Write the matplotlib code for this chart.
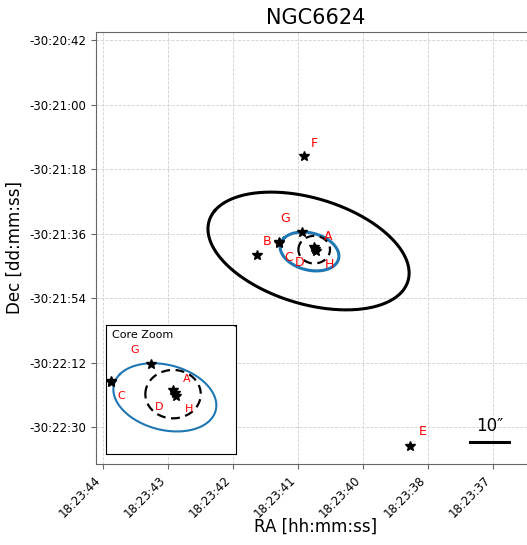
import numpy as np
import matplotlib
matplotlib.use("Agg")
import matplotlib.pyplot as plt

# x: RA seconds past 18:23:00, y: Dec offset in arcsec from -30:21:00
DEC0_DEG = -30.35
ARCSEC_PER_RA_SEC = 15 * np.cos(np.radians(DEC0_DEG))

star_names = ["A", "H", "D", "G", "B", "C", "F", "E", ""]
star_ra = [40.749, 40.728, 40.738, 40.943, 41.297, 41.292, 40.903, 39.277, 41.631]
star_dec = [-39.72, -40.66, -40.20, -35.53, -38.24, -38.40, -14.15, -95.09, -41.78]
# label offsets (points)
label_dx = [10, 10, -11, -12, -8.5, 7, 7, 9, 0]
label_dy = [7.6, -9.6, -10, 9.6, 0, -10.6, 9, 10, 0]

# error regions: centre (RA s, Dec "), semi-axes (arcsec), PA (deg E of N)
big_ell = dict(ra=40.838, dec=-40.75, a=21.8, b=14.0, pa=59)
blue_ell = dict(ra=40.823, dec=-40.89, a=6.3, b=4.9, pa=54)
core_ra, core_dec = 40.751, -40.38
core_r_east, core_r_north = 3.15, 3.85

xtick_pos = [44, 43, 42, 41, 40, 39, 38]
xtick_lab = ["18:23:44", "18:23:43", "18:23:42", "18:23:41", "18:23:40",
             "18:23:38", "18:23:37"]
ytick_pos = [18, 0, -18, -36, -54, -72, -90]
ytick_lab = ["-30:20:42", "-30:21:00", "-30:21:18", "-30:21:36",
             "-30:21:54", "-30:22:12", "-30:22:30"]


def ellipse_xy(ra, dec, a, b, pa, n=300):
    t = np.linspace(0, 2 * np.pi, n)
    p = np.radians(pa)
    east = a * np.cos(t) * np.sin(p) + b * np.sin(t) * np.cos(p)
    north = a * np.cos(t) * np.cos(p) - b * np.sin(t) * np.sin(p)
    return ra + east / ARCSEC_PER_RA_SEC, dec + north


def draw_regions(ax, xlim, ylim, blue_lw, fs):
    ax.set_xlim(*xlim)
    ax.set_ylim(*ylim)
    x, y = ellipse_xy(**big_ell)
    ax.plot(x, y, color="black", lw=2.2)
    x, y = ellipse_xy(**blue_ell)
    ax.plot(x, y, color="#1f77b4", lw=blue_lw)
    t = np.linspace(0, 2 * np.pi, 300)
    ax.plot(core_ra + core_r_east * np.cos(t) / ARCSEC_PER_RA_SEC,
            core_dec + core_r_north * np.sin(t),
            color="black", lw=1.6, ls=(0, (4, 2.5)))
    ax.plot(star_ra, star_dec, ls="none", marker="*", ms=7, color="black")
    for name, x0, y0, dx, dy in zip(star_names, star_ra, star_dec, label_dx, label_dy):
        # only label stars that fall inside this view
        if not name or not (min(xlim) <= x0 <= max(xlim) and min(ylim) <= y0 <= max(ylim)):
            continue
        ax.annotate(name, (x0, y0), xytext=(dx, dy), textcoords="offset points",
                    color="red", fontsize=fs, ha="center", va="center",
                    annotation_clip=False, clip_on=True)


fig = plt.figure(figsize=(5.27, 5.45), dpi=100)
ax = fig.add_axes([96 / 527, 81 / 545, 439 / 527, 432 / 545])
draw_regions(ax, (44.108, 37.354), (-100.2, 20.37), 2.2, 9)

ax.set_xticks(xtick_pos)
ax.set_xticklabels(xtick_lab, rotation=45, ha="right")
ax.set_yticks(ytick_pos)
ax.set_yticklabels(ytick_lab)
ax.tick_params(labelsize=8.5, color="0.4")
for s in ax.spines.values():
    s.set_color("0.4")
ax.grid(True, color="0.82", ls="--", lw=0.6)
ax.set_xlabel("RA [hh:mm:ss]", fontsize=12)
ax.xaxis.set_label_coords(0.5, -0.124)
ax.set_ylabel("Dec [dd:mm:ss]", fontsize=12)
ax.set_title("NGC6624", fontsize=15)

# scale bar
ax.plot([0.852, 0.941], [0.050, 0.050], color="black", lw=2.2,
        transform=ax.transAxes)
ax.text(0.897, 0.0887, "10\u2033", transform=ax.transAxes, fontsize=12,
        ha="center", va="center")

# inset around the core
ins = fig.add_axes([106 / 527, 91 / 545, 130 / 527, 129.5 / 545])
draw_regions(ins, (41.34, 40.198), (-49.9, -29.3), 1.5, 8)
ins.set_xticks([])
ins.set_yticks([])
ins.text(0.05, 0.92, "Core Zoom", transform=ins.transAxes, fontsize=8,
         ha="left", va="center")

fig.savefig("out.png", dpi=100)
